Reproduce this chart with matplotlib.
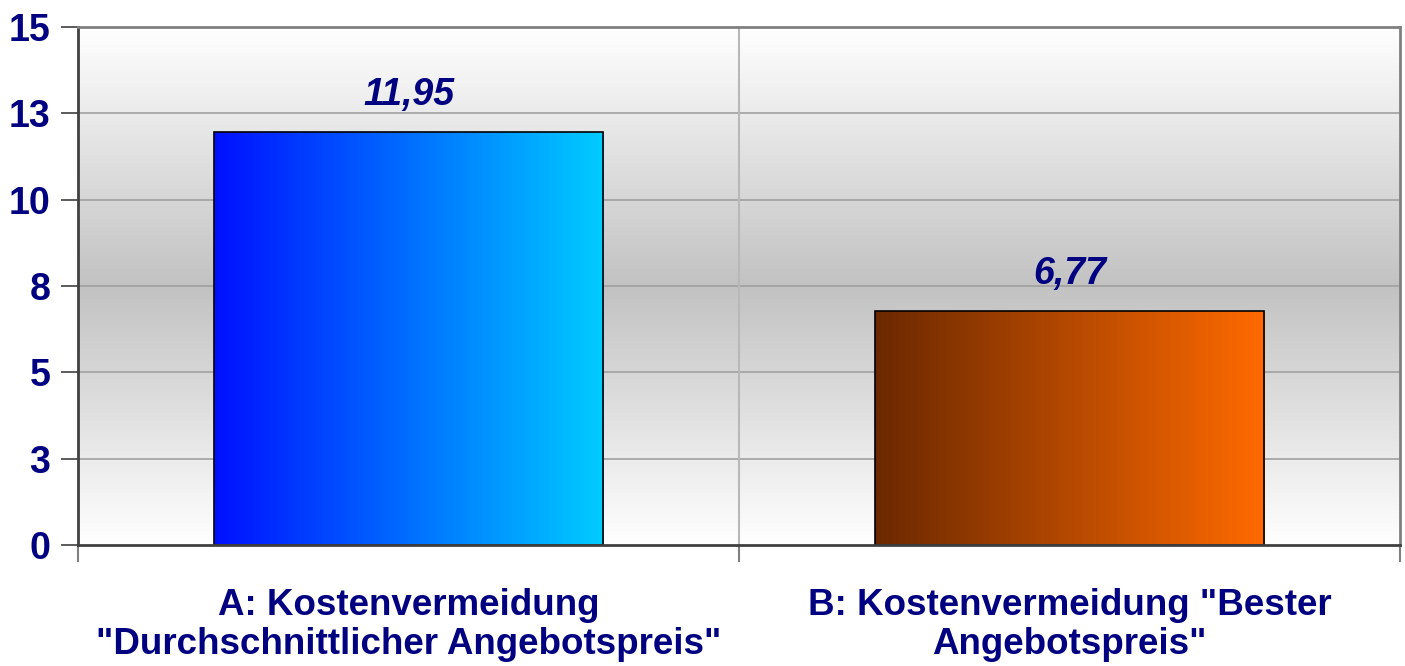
import numpy as np
import matplotlib.pyplot as plt
from matplotlib.colors import LinearSegmentedColormap

categories = ['A: Kostenvermeidung\n"Durchschnittlicher Angebotspreis"',
              'B: Kostenvermeidung "Bester\nAngebotspreis"']
values = [11.95, 6.77]
value_labels = ['11,95', '6,77']
ytick_values = [0, 2.5, 5, 7.5, 10, 12.5, 15]
ytick_labels = ['0', '3', '5', '8', '10', '13', '15']
bar_colors = [('#0010FF', '#00CCFF'), ('#6B2800', '#FF6A00')]

navy = '#000080'
plt.rcParams['font.family'] = ['Liberation Sans', 'DejaVu Sans']

fig = plt.figure(figsize=(14.05, 6.66), dpi=100)
ax = fig.add_axes([78 / 1405, 1 - 545 / 666, (1400 - 78) / 1405, (545 - 27) / 666])

# Hintergrund: weiss oben/unten, grau in der Mitte
bg = LinearSegmentedColormap.from_list('bg', ['#FFFFFF', '#C2C2C2', '#FFFFFF'])
grad = np.linspace(0, 1, 256).reshape(-1, 1)
ax.imshow(grad, cmap=bg, aspect='auto', extent=[0, 1, 0, 1],
          transform=ax.transAxes, zorder=0)

ax.set_xlim(0, 2)
ax.set_ylim(0, 15)

for yv in ytick_values[1:-1]:
    ax.axhline(yv, color='#A0A0A0', lw=1.2, zorder=1)
ax.axvline(1, color='#B8B8B8', lw=1.5, zorder=1)

width = 0.59
for i, (v, (c0, c1)) in enumerate(zip(values, bar_colors)):
    x0 = i + 0.5 - width / 2
    cmap = LinearSegmentedColormap.from_list('b%d' % i, [c0, c1])
    g = np.linspace(0, 1, 256).reshape(1, -1)
    ax.imshow(g, cmap=cmap, aspect='auto', extent=[x0, x0 + width, 0, v], zorder=2)
    ax.bar(i + 0.5, v, width=width, fill=False, edgecolor='black', lw=1.2, zorder=3)
    ax.text(i + 0.5, v + 0.55, value_labels[i], ha='center', va='bottom',
            fontsize=27, fontweight='bold', fontstyle='italic', color=navy, zorder=4)

ax.set_yticks(ytick_values)
ax.set_yticklabels(ytick_labels)
ax.set_xticks([0, 1, 2])
ax.set_xticklabels([])
ax.tick_params(axis='y', direction='out', length=12, width=1.2, color='#404040',
               labelsize=27, labelcolor=navy, pad=8)
ax.tick_params(axis='x', direction='out', length=12, width=1.5, color='#808080')
for lab in ax.get_yticklabels():
    lab.set_fontweight('bold')

for i, cat in enumerate(categories):
    ax.text(i + 0.5, -1.25, cat, ha='center', va='top', fontsize=26.5,
            fontweight='bold', color=navy, linespacing=1.15)

ax.spines['left'].set_color('#404040')
ax.spines['bottom'].set_color('#404040')
ax.spines['top'].set_color('#808080')
ax.spines['right'].set_color('#808080')
for s in ax.spines.values():
    s.set_linewidth(2)
    s.set_zorder(5)

fig.savefig('out.png', dpi=100)
